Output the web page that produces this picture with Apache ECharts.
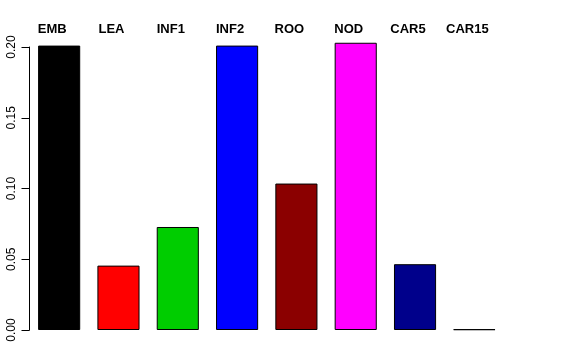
<!DOCTYPE html>
<html><head><meta charset="utf-8">
<script src="https://cdn.jsdelivr.net/npm/echarts@6/dist/echarts.min.js"></script>
<style>html,body{margin:0;padding:0;background:#fff}#c{width:576px;height:360px}</style>
</head><body><div id="c"></div>
<script>
const categories = ["EMB","LEA","INF1","INF2","ROO","NOD","CAR5","CAR15"];
const values = [0.201, 0.0455, 0.0728, 0.201, 0.1035, 0.203, 0.0465, 0.0005];
const colors = ["#000000","#FF0000","#00CD00","#0000FF","#8B0000","#FF00FF","#00008B","#FFFFFF"];
const yTicks = [0, 0.05, 0.10, 0.15, 0.20];

const chart = echarts.init(document.getElementById('c'), null, {renderer:'canvas'});
chart.setOption({
  animation:false,
  backgroundColor:'#fff',
  grid:{left:29.5, right:72, top:47, bottom:30, containLabel:false},
  xAxis:{
    type:'category', position:'top', data:categories,
    axisLine:{show:false}, axisTick:{show:false},
    axisLabel:{interval:0, hideOverlap:false, margin:11, formatter:v=>'{a|'+v+'}',
      rich:{a:{fontFamily:'Liberation Sans, Arial, sans-serif', fontWeight:'bold', fontSize:13, color:'#000', padding:[0,14,0,0]}}}
  },
  yAxis:{
    type:'value', min:yTicks[0], max:yTicks[yTicks.length-1], interval:0.05,
    splitLine:{show:false},
    axisLine:{show:true, lineStyle:{color:'#000', width:1}},
    axisTick:{show:true, length:8, lineStyle:{color:'#000'}},
    axisLabel:{fontFamily:'Liberation Sans, Arial, sans-serif', fontSize:12, color:'#000', rotate:90, margin:12,
      formatter:v=>v.toFixed(2)}
  },
  series:[{
    type:'bar', clip:false, barCategoryGap:'29%',
    data: values.map((v,i)=>({value:v, itemStyle:{color:colors[i]}})),
    itemStyle:{borderColor:'#000', borderWidth:1}
  }]
});
</script></body></html>
